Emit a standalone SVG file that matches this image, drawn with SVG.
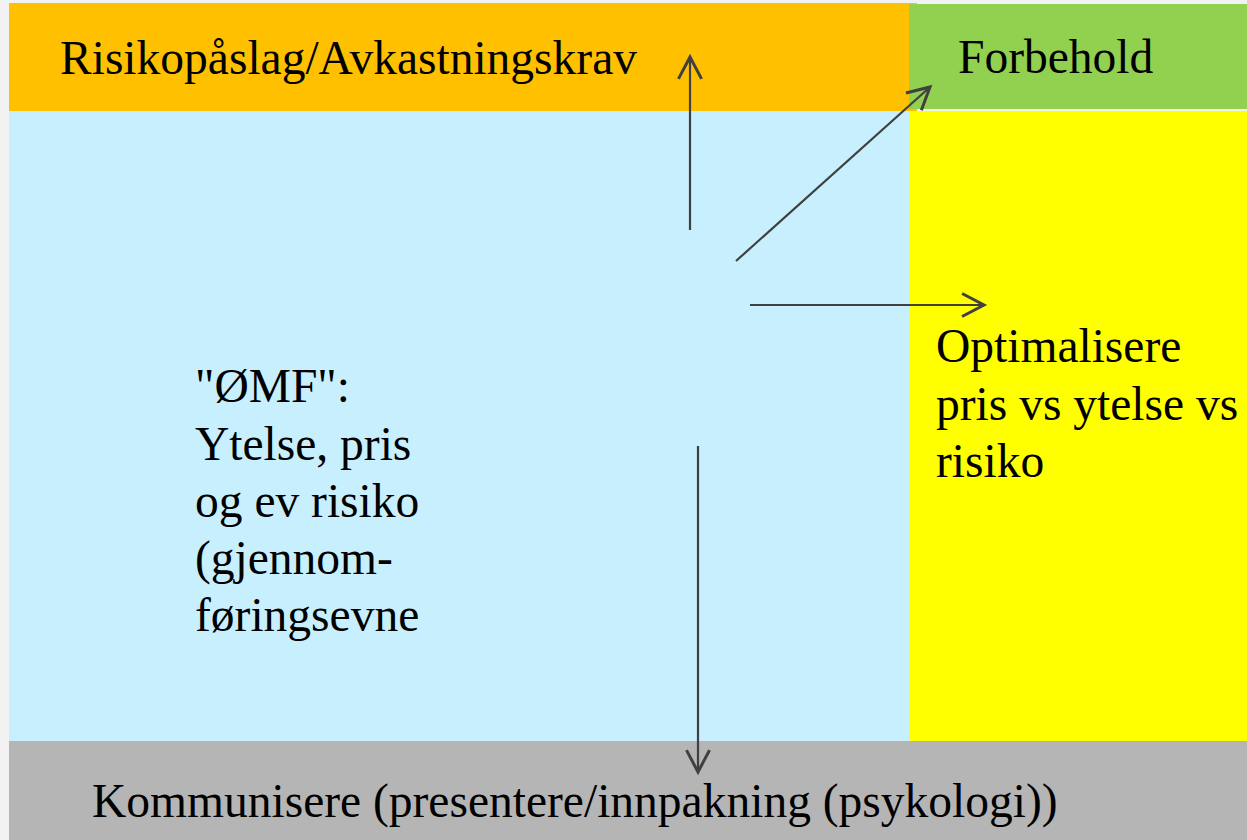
<svg xmlns="http://www.w3.org/2000/svg" width="1247" height="840" viewBox="0 0 1247 840">
<style>
.t{font-family:"Liberation Serif","Times New Roman",serif;font-size:47.5px;fill:#000}
.c{stroke:#404040;stroke-width:2.2;fill:none}
</style>
<defs>
<marker id="ah" markerUnits="userSpaceOnUse" markerWidth="30" markerHeight="30" refX="0" refY="0" viewBox="-22 -13 26 26" orient="auto" overflow="visible">
<path d="M-19,-10 L0,0 L-19,10" fill="none" stroke="#404040" stroke-width="2.6"/>
</marker>
</defs>
<rect x="0" y="0" width="1247" height="840" fill="#f2f2f2"/>
<g id="omf">
<rect x="9" y="110" width="901" height="632" fill="#c8effe"/>
<text class="t"><tspan x="195" y="402">"ØMF":</tspan><tspan x="195" y="460">Ytelse, pris</tspan><tspan x="195" y="517">og ev risiko</tspan><tspan x="195" y="574">(gjennom-</tspan><tspan x="195" y="631">føringsevne</tspan></text>
</g>
<g id="risiko">
<rect x="9" y="3" width="908" height="108" fill="#ffc000"/>
<text class="t" x="60" y="74">Risikopåslag/Avkastningskrav</text>
</g>
<g id="forbehold">
<rect x="909" y="4" width="338" height="105" fill="#92d050"/>
<text class="t" x="958" y="73">Forbehold</text>
</g>
<g id="optimalisere">
<rect x="909" y="111" width="338" height="631" fill="#ffff00"/>
<text class="t"><tspan x="936" y="362">Optimalisere</tspan><tspan x="936" y="420">pris vs ytelse vs</tspan><tspan x="936" y="477">risiko</tspan></text>
</g>
<g id="kommunisere">
<rect x="9" y="741" width="1238" height="99" fill="#b5b5b6"/>
<text class="t" x="92" y="817">Kommunisere (presentere/innpakning (psykologi))</text>
</g>
<g id="connectors">
<line class="c" x1="690" y1="230" x2="690" y2="57" marker-end="url(#ah)"/>
<line class="c" x1="736" y1="261" x2="930" y2="87" marker-end="url(#ah)"/>
<line class="c" x1="750" y1="305" x2="984" y2="305" marker-end="url(#ah)"/>
<line class="c" x1="698" y1="446" x2="698" y2="772" marker-end="url(#ah)"/>
</g>
</svg>
